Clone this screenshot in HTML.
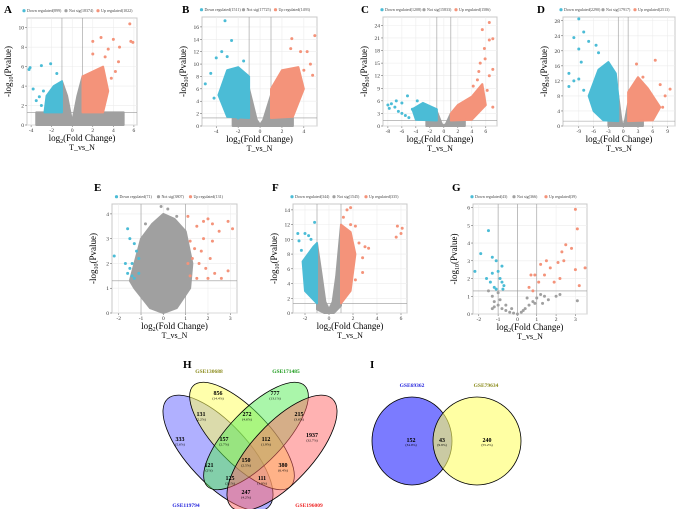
<!DOCTYPE html>
<html><head><meta charset="utf-8"><style>
html,body{margin:0;padding:0;background:#fff;}
svg{display:block;font-family:"Liberation Serif",serif;}
</style></head><body>
<svg id="fig" width="677" height="509" viewBox="0 0 677 509" xmlns="http://www.w3.org/2000/svg">
<g id="plots"></g>
<g>
 <text x="183" y="368" font-size="11" font-weight="bold">H</text>
 <ellipse cx="218" cy="453" rx="30" ry="74" transform="rotate(-43 218 453)" fill="#6f6fff" fill-opacity="0.55" stroke="#000" stroke-width="0.8"/>
 <ellipse cx="242" cy="436" rx="27" ry="70" transform="rotate(-44 242 436)" fill="#ffff66" fill-opacity="0.55" stroke="#000" stroke-width="0.8"/>
 <ellipse cx="256" cy="436" rx="27" ry="70" transform="rotate(44 256 436)" fill="#55ee55" fill-opacity="0.5" stroke="#000" stroke-width="0.8"/>
 <ellipse cx="282" cy="453" rx="30" ry="74" transform="rotate(43 282 453)" fill="#ff6666" fill-opacity="0.5" stroke="#000" stroke-width="0.8"/>
 <g font-size="5.5" font-weight="bold" text-anchor="middle">
  <text x="209" y="373" fill="#8a8a1a">GSE130688</text>
  <text x="286" y="373" fill="#1a9a1a">GSE171485</text>
  <text x="186" y="507" fill="#2222dd">GSE119794</text>
  <text x="309" y="507" fill="#ee2222">GSE196009</text>
 </g>
 <g id="vennnums" text-anchor="middle"></g>
</g>
<g>
 <text x="370" y="368" font-size="11" font-weight="bold">I</text>
 <ellipse cx="412" cy="441" rx="40" ry="44" fill="#7b7bff" stroke="#000" stroke-width="0.8"/>
 <ellipse cx="477" cy="441" rx="44" ry="44" fill="#ffff66" fill-opacity="0.6" stroke="#000" stroke-width="0.8"/>
 <text x="412" y="387" font-size="5.5" font-weight="bold" fill="#2222dd" text-anchor="middle">GSE69362</text>
 <text x="486" y="387" font-size="5.5" font-weight="bold" fill="#8a8a1a" text-anchor="middle">GSE79634</text>
 <g text-anchor="middle">
  <text x="411" y="442" font-size="6" font-weight="bold">152</text><text x="411" y="446" font-size="3.5">(34.9%)</text>
  <text x="442" y="442" font-size="6" font-weight="bold">43</text><text x="442" y="446" font-size="3.5">(9.9%)</text>
  <text x="487" y="442" font-size="6" font-weight="bold">240</text><text x="487" y="446" font-size="3.5">(55.2%)</text>
 </g>
</g>
</svg>
<script>
const NS="http://www.w3.org/2000/svg";
// Panel A
const aCounts=[899,18374,1022];
const aXTicks=[-4,-2,0,2,4,6], aYTicks=[0,2,4,6,8,10];
const aGrey=[[-3.5,0],[5,0],[5,1.3],[1,1.3],[1,5],[0.5,3],[0,0.3],[-0.5,3],[-1,4.5],[-1,1.3],[-3.5,1.3]];
const aBlue=[[-1,1.3],[-2.7,1.3],[-2.5,3],[-1.8,4],[-1,4.5]];
const aOrange=[[1,1.3],[3,1.3],[3.5,3.5],[3,6],[2,5.5],[1,5]];
const aDownX=[-4.1,-4.2,-3.0,-2.1,-3.8,-3.2,-3.5,-2.8,-1.5,-3.0], aDownY=[5.9,5.7,6.1,6.3,3.7,2.9,2.5,3.5,5.3,2.0];
const aUpX=[5.6,5.7,5.9,4.0,2.8,4.6,3.5,2.0,2.0,3.2,4.2,3.8,4.5], aUpY=[10.4,8.6,8.5,8.8,9.0,8.0,7.8,7.3,8.6,7.0,5.5,4.8,6.5];
// Panel B
const bCounts=[1511,17725,1493];
const bXTicks=[-4,-2,0,2,4], bYTicks=[0,2,4,6,8,10,12,14,16];
const bGrey=[[-2.5,0],[3,0],[3,1.3],[1,1.3],[1,5],[0.3,1],[0,0.2],[-0.3,1],[-1,6],[-1,1.3],[-2.5,1.3]];
const bBlue=[[-1,1.3],[-3,1.5],[-3.8,5],[-3,9],[-2,9.5],[-1,8]];
const bOrange=[[1,1.3],[3,1.5],[4,6],[3.5,9.5],[2,9],[1,6]];
const bDownX=[-3.2,-2.6,-3.5,-4.5,-5,-4.2,-4,-1.5,-3.0,-2], bDownY=[17,13.8,12,8.5,6.8,4.5,11,10.5,11.2,1.3];
const bUpX=[5,2.9,3.7,4.3,4.8,4.6,2.8,4], bUpY=[14.6,14.1,12,12,8.2,10,12.5,9];
// Panel C
const cCounts=[1208,15833,1586];
const cXTicks=[-8,-6,-4,-2,0,2,4,6], cYTicks=[0,3,6,9,12,15,18,21,24];
const cGrey=[[-2.5,0],[3,0],[3,1.3],[1,1.3],[1,3],[0.3,0.5],[0,0.1],[-0.3,0.5],[-1,3.5],[-1,1.3],[-2.5,1.3]];
const cBlue=[[-1,1.3],[-4,1.5],[-4.5,4],[-3,5.5],[-1,4]];
const cOrange=[[1,1.3],[4,1.5],[6,5],[5.5,10],[4,7],[2,5],[1,3]];
const cDownX=[-8,-7.5,-7,-6.5,-6,-5.5,-5,-6.8,-5.2,-6,-4.5,-3.8,-7.8], cDownY=[5,5.3,4.5,3.5,3,2.5,2,6,7.2,5.5,4,6,4.2];
const cUpX=[6.5,5.5,6.5,7,5.8,5.2,5.9,7,6.5,4.8,7,4.2,6.2,5], cUpY=[24.7,23,20.5,20.8,18.5,15,16,13.5,12,11,4.5,9.5,8.5,13];
// Panel D
const dCounts=[2290,17917,2513];
const dXTicks=[-9,-6,-3,0,3,6,9], dYTicks=[0,4,8,12,16,20,24,28];
const dGrey=[[-3,0],[4,0],[4,1.3],[1,1.3],[1,6],[0.3,1],[0,0.3],[-0.3,1],[-1,8],[-1,1.3],[-3,1.3]];
const dBlue=[[-1,1.3],[-4,1.5],[-6,4],[-7,8],[-5,15],[-3,17],[-1.5,14],[-1,8]];
const dOrange=[[1,1.3],[6,1.5],[7.5,5],[5,10],[3,13],[1,9]];
const dDownX=[-9,-10,-8,-7,-9,-5.5,-11,-10,-8.5,-9,-11,-8,-5], dDownY=[28.5,23.5,25,22.5,20.5,21.5,14,12,17,12.5,10.5,9.5,19.5];
const dUpX=[6.5,9.5,8.5,2.7,7.5,4,8], dUpY=[17.5,9.8,8,16.5,11,13,5];
// Panel E
const eCounts=[71,3807,131];
const eXTicks=[-2,-1,0,1,2,3], eYTicks=[0,1,2,3,4];
const eGrey=[[-1.5,1.3],[-1,3],[-0.5,3.6],[0,4.0],[0.5,3.8],[1,3.3],[1.3,2],[1.2,1],[0.6,0.2],[0,0],[-0.6,0.2],[-1.3,1]];
const eBlue=[], eOrange=[];
const eDownX=[-2.2,-1.6,-1.5,-1.3,-1.4,-1.2,-1.6,-1.4,-1.1,-1.3,-1.7,-1.1,-1.5], eDownY=[2.3,3.4,3.0,2.8,2.0,2.5,1.6,1.5,1.6,1.4,2.0,2.2,1.8];
const eUpX=[1.1,1.5,1.8,2,2.2,2.9,3.1,2.5,1.2,1.4,1.7,1.3,1.6,2.1,1.9,1.2,1.5,2.3,2.9,2.6,1.8,2.2,1.1,2.0], eUpY=[3.9,3.5,3.7,3.8,3.6,3.7,3.4,3.3,2.9,2.6,2.5,2.2,2,2.2,1.8,1.5,1.4,1.6,1.7,1.4,3,2.9,2.0,1.4];
const eNsX=[-0.1,0.2,0.6,-0.8], eNsY=[4.3,4.2,3.9,3.6];
// Panel F
const fCounts=[344,1545,335];
const fXTicks=[-2,0,2,4,6], fYTicks=[0,2,4,6,8,10,12,14];
const fGrey=[[-1,0.5],[-0.4,0],[0.4,0],[1,1],[1,12],[0.6,5],[0.3,1.5],[0,0.5],[-0.3,1.5],[-0.6,5],[-1,9.5]];
const fBlue=[[-1,1.3],[-2,3],[-2.2,7],[-1.3,9],[-1,9.5]];
const fOrange=[[1,1.3],[1.8,3],[2.2,8],[1.8,11],[1,12]];
const fDownX=[-2.6,-2,-1.7,-1.2,-2.3,-1.5,-2.5], fDownY=[10.8,10.8,10.5,12.3,8.5,10,9.8];
const fUpX=[1.8,1.5,1.2,1.8,2.2,2.5,3,3.3,2.8,2.8,2.2,5.7,6.1,5.6,6], fUpY=[14.3,14,13,12,11.8,9.5,9,8.8,7.5,5.5,4.5,11.8,11.5,10.3,10.8];
// Panel G
const gCounts=[43,366,39];
const gXTicks=[-2,-1,0,1,2,3], gYTicks=[0,1,2,3,4,5,6];
const gNsX=[-1.5,-1.3,-1.2,-1,-0.8,-0.6,-0.4,-0.2,0,0.2,0.4,0.6,0.8,1,1.2,1.4,1.6,2,3.1,-1.3,-1.2,-1,0.5,0.9,1.3,2.2,-0.9,-0.6,0.3,-0.3];
const gNsY=[1.3,1,0.7,0.5,0.3,0.2,0.1,0.05,0,0.1,0.3,0.5,0.7,0.9,1.1,1,0.8,1,0.75,0.3,0.4,1.2,0.9,0.6,0.6,1.1,0.8,0.5,0.2,0.3];
const gDownX=[-2.2,-1.9,-1.5,-1.3,-1.1,-1.6,-1.4,-1.2,-1.0,-0.9,-0.8,-0.7,-1.1,-0.8,-0.75,-1.3], gDownY=[2.4,3.4,4.7,3.2,3,2,1.8,1.5,2.4,2,2.7,1.6,1.4,1.8,1.4,2.3];
const gUpX=[3,3.1,2.5,2.8,2.3,2.4,2.1,1.7,1.5,1.2,1.4,0.9,0.7,1.1,0.6,0.8,3.5,3,3.2,2.2,1.9], gUpY=[5.9,4.8,3.9,3.7,3.5,3.0,2.9,2.6,3.0,2.8,2.2,2.2,2.2,1.8,1.5,1.3,2.6,2.5,1.6,2.0,1.8];

const panels=[
 {id:"a",L:"A",lx:4,ly:13,box:[27,18,137,125],xd:[-4.4,6.3],yd:[0,11],xt:aXTicks,yt:aYTicks,c:aCounts,g:aGrey,b:aBlue,o:aOrange,dx:aDownX,dy:aDownY,ux:aUpX,uy:aUpY},
 {id:"b",L:"B",lx:182,ly:13,box:[202,17,317,126],xd:[-5.3,5.2],yd:[0,17.6],xt:bXTicks,yt:bYTicks,c:bCounts,g:bGrey,b:bBlue,o:bOrange,dx:bDownX,dy:bDownY,ux:bUpX,uy:bUpY},
 {id:"c",L:"C",lx:361,ly:13,box:[383,17,497,126],xd:[-8.7,7.6],yd:[0,26],xt:cXTicks,yt:cYTicks,c:cCounts,g:cGrey,b:cBlue,o:cOrange,dx:cDownX,dy:cDownY,ux:cUpX,uy:cUpY},
 {id:"d",L:"D",lx:537,ly:13,box:[563,17,675,126],xd:[-12.2,10.5],yd:[0,29],xt:dXTicks,yt:dYTicks,c:dCounts,g:dGrey,b:dBlue,o:dOrange,dx:dDownX,dy:dDownY,ux:dUpX,uy:dUpY},
 {id:"e",L:"E",lx:94,ly:191,box:[112,204,237,313],xd:[-2.3,3.3],yd:[0,4.4],xt:eXTicks,yt:eYTicks,c:eCounts,g:eGrey,b:eBlue,o:eOrange,dx:eDownX,dy:eDownY,ux:eUpX,uy:eUpY,nx:eNsX,ny:eNsY},
 {id:"f",L:"F",lx:272,ly:191,box:[293,204,407,313],xd:[-3.0,6.5],yd:[0,14.8],xt:fXTicks,yt:fYTicks,c:fCounts,g:fGrey,b:fBlue,o:fOrange,dx:fDownX,dy:fDownY,ux:fUpX,uy:fUpY},
 {id:"g",L:"G",lx:452,ly:191,box:[473,204,587,314],xd:[-2.3,3.6],yd:[0,6.2],xt:gXTicks,yt:gYTicks,c:gCounts,g:[],b:[],o:[],dx:gDownX,dy:gDownY,ux:gUpX,uy:gUpY,nx:gNsX,ny:gNsY,zero:true}
];
const BLUE="#4bbcd6",ORANGE="#f4937a",GREY="#a0a0a0";
function mk(tag,attrs,parent){const e=document.createElementNS(NS,tag);for(const k in attrs)e.setAttribute(k,attrs[k]);parent.appendChild(e);return e;}
const root=document.getElementById("plots");
panels.forEach(p=>{
 const G=mk("g",{},root);
 
 
 const [x0,y0,x1,y1]=p.box;
 const sx=v=>x0+(v-p.xd[0])/(p.xd[1]-p.xd[0])*(x1-x0);
 const sy=v=>y1-(v-p.yd[0])/(p.yd[1]-p.yd[0])*(y1-y0);
 const lab=mk("text",{x:p.lx,y:p.ly,"font-size":11,"font-weight":"bold"},G);lab.textContent=p.L;
 
 
 mk("rect",{x:x0,y:y0,width:x1-x0,height:y1-y0,fill:"#fff",stroke:"#c8c8c8","stroke-width":1},G);
 p.xt.forEach(t=>{mk("line",{x1:sx(t),x2:sx(t),y1:y0,y2:y1,stroke:"#ececec","stroke-width":0.6},G);
   const tx=mk("text",{x:sx(t),y:y1+7,"font-size":5.5,"text-anchor":"middle",fill:"#333"},G);tx.textContent=t;
   mk("line",{x1:sx(t),x2:sx(t),y1:y1,y2:y1+2,stroke:"#555","stroke-width":0.5},G);});
 p.yt.forEach(t=>{mk("line",{x1:x0,x2:x1,y1:sy(t),y2:sy(t),stroke:"#ececec","stroke-width":0.6},G);
   const ty=mk("text",{x:x0-3,y:sy(t)+2,"font-size":5.5,"text-anchor":"end",fill:"#333"},G);ty.textContent=t;
   mk("line",{x1:x0-2,x2:x0,y1:sy(t),y2:sy(t),stroke:"#555","stroke-width":0.5},G);});
 const thr=[-1,1];if(p.zero)thr.push(0);
 thr.forEach(t=>mk("line",{x1:sx(t),x2:sx(t),y1:y0,y2:y1,stroke:"#999","stroke-width":0.6},G));
 mk("line",{x1:x0,x2:x1,y1:sy(1.3),y2:sy(1.3),stroke:"#999","stroke-width":0.6},G);
 const poly=(pts,col,name)=>{if(!pts.length)return;const e=mk("polygon",{points:pts.map(q=>sx(q[0])+","+sy(q[1])).join(" "),fill:col,stroke:col,"stroke-width":2,"stroke-linejoin":"round"},G);
   
   };
 poly(p.g,GREY,"not-sig-cloud");poly(p.b,BLUE,"down-cloud");poly(p.o,ORANGE,"up-cloud");
 const dots=(xs,ys,col,name)=>{if(!xs)return;xs.forEach((v,i)=>{const c=mk("circle",{cx:sx(v),cy:sy(ys[i]),r:1.5,fill:col},G);
   
   });};
 dots(p.nx,p.ny,GREY,"not-sig-point");dots(p.dx,p.dy,BLUE,"down-point");dots(p.ux,p.uy,ORANGE,"up-point");
 const lg=mk("g",{},G);
 
 
 const labels=["Down regulated("+p.c[0]+")","Not sig("+p.c[1]+")","Up regulated("+p.c[2]+")"];
 const cols=[BLUE,GREY,ORANGE];const ly=y0-6;
 let lx=x0+(x1-x0)/2-58;const w=[38,28,38];
 labels.forEach((s,i)=>{mk("circle",{cx:lx,cy:ly-1.3,r:1.6,fill:cols[i]},lg);
  const t=mk("text",{x:lx+3,y:ly,"font-size":4,fill:"#444"},lg);t.textContent=s;lx+=w[i]+4;});
 const xl=mk("text",{x:(x0+x1)/2,y:y1+16,"font-size":9,"text-anchor":"middle"},G);
 xl.innerHTML='log<tspan font-size="6" dy="2">2</tspan><tspan dy="-2">(Fold Change)</tspan>';
 
 
 const tn=mk("text",{x:(x0+x1)/2,y:y1+25,"font-size":8,"text-anchor":"middle"},G);tn.textContent="T_vs_N";
 
 
 const yc=(y0+y1)/2,yx=x0-16;
 const yl=mk("text",{x:yx,y:yc,"font-size":9,"text-anchor":"middle",transform:"rotate(-90 "+yx+" "+yc+")"},G);
 yl.innerHTML='-log<tspan font-size="6" dy="2">10</tspan><tspan dy="-2">(Pvalue)</tspan>';
 
 
});
const vNums=[["856","14.4%",218,395],["777","13.1%",275,395],["131","2.2%",201,416],["272","4.6%",247,416],["215","3.6%",299,416],["333","5.6%",180,441],["157","2.7%",224,441],["112","1.9%",266,441],["1937","32.7%",312,437],["150","2.5%",246,462],["121","2%",209,467],["380","6.4%",283,467],["125","2.1%",230,480],["111","1.9%",262,480],["247","4.2%",246,494]];
const vg=document.getElementById("vennnums");
vNums.forEach(v=>{const a=mk("text",{x:v[2],y:v[3],"font-size":6,"font-weight":"bold"},vg);a.textContent=v[0];
 
 
 const b=mk("text",{x:v[2],y:v[3]+4.5,"font-size":3.5},vg);b.textContent="("+v[1]+")";});
</script>
</body></html>
